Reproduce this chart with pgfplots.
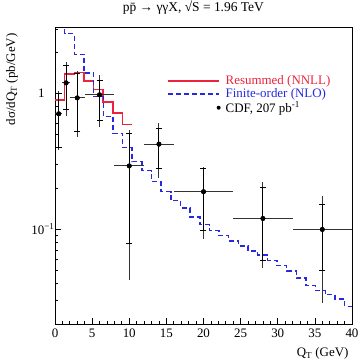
\documentclass[border=0pt]{standalone}
\usepackage{fontspec}
\setmainfont{Liberation Serif}
\usepackage{pgfplots}
\usepackage{pgfplotstable}
\pgfplotsset{compat=1.18}
\definecolor{resred}{RGB}{235,35,60}
\definecolor{nlo}{RGB}{40,40,225}
\pgfplotsset{
  redlegend/.style={legend image code/.code={\draw[draw=resred, line width=1.6bp] (0bp,0bp) -- (51bp,0bp);}},
  bluelegend/.style={legend image code/.code={\draw[draw=nlo, line width=1.5bp, dash pattern=on 5bp off 3bp] (0bp,0bp) -- (51bp,0bp);}},
  dotlegend/.style={legend image code/.code={\path[draw=none, fill=none] (0bp,0bp) -- (51bp,0bp); \fill[black, draw=none] (51bp,0bp) circle (2bp);}},
}

\pgfplotstableread{
x y ex tp tm sp sm
0.5 0.71 0.5 0.33 0.325 0.30 0.31
1.5 1.20 0.5 0.51 0.513 0.41 0.44
3 0.93 1 0.53 0.45 0.49 0.40
6 0.98 2 0.40 0.41 0.27 0.34
10 0.293 2 0.247 0.251 0.217 0.214
14 0.424 2 0.183 0.187 0.133 0.143
20 0.189 4 0.101 0.104 0.092 0.091
28 0.120 4 0.103 0.068 0.085 0.061
36 0.0996 4 0.076 0.071 0.053 0.050
}\cdf

\pgfplotstableread{
x y
0 0.90
1.3 1.40
2.6 1.43
3.9 1.24
5.2 1.07
6.5 0.87
7.8 0.72
9.1 0.59
10.4 0.59
}\nnlltab

\pgfplotstableread{
x y
0 5
1.3 2.78
2.6 1.95
3.9 1.42
5.2 0.95
6.5 0.68
7.8 0.51
9.1 0.40
10.4 0.315
11.7 0.27
13.0 0.225
14.3 0.189
15.6 0.163
16.9 0.143
18.2 0.123
19.5 0.108
20.8 0.098
22.1 0.090
23.4 0.082
24.7 0.075
26.0 0.069
27.3 0.0644
28.6 0.059
29.9 0.054
31.2 0.049
32.5 0.0435
33.8 0.0385
35.1 0.0354
36.4 0.033
37.7 0.0306
39.0 0.027
40.3 0.027
}\nlotab

\begin{document}
\begin{tikzpicture}
\path[use as bounding box] (-55bp,-37bp) rectangle (305bp,324bp);
\begin{axis}[
  at={(0,0)}, anchor=south west,
  scale only axis, width=297bp, height=297bp,
  ymode=log, xmin=0, xmax=40, ymin=0.02, ymax=3.1,
  axis line style={line width=0.9bp},
  tick pos=left, tick align=inside,
  major tick length=6bp, minor tick length=3.5bp,
  every tick/.style={black, line width=0.7bp},
  xtick={0,5,...,40}, minor x tick num=4,
  ytick={0.1,1},
  yticklabels={{10\textsuperscript{−1}\hspace*{-10bp}},{1}},
  minor ytick={0.02,0.03,0.04,0.05,0.06,0.07,0.08,0.09,0.2,0.3,0.4,0.5,0.6,0.7,0.8,0.9,2,3},
  /pgf/number format/assume math mode=true,
  tick label style={font=\fontsize{13}{15}\selectfont},
  yticklabel style={xshift=-7bp},
  xticklabel style={yshift=-1bp},
  title={p\={p} → γγX, √S = 1.96 TeV},
  title style={at={(axis description cs:0.466,1)}, anchor=south, yshift=3bp, font=\fontsize{13.5}{15}\selectfont},
  xlabel={Q\textsubscript{T} (GeV)},
  xlabel style={at={(axis description cs:1,-0.1)}, anchor=east, font=\fontsize{13}{15}\selectfont},
  ylabel={dσ/dQ\textsubscript{T} (pb/GeV)},
  ylabel style={at={(axis description cs:-0.145,0.99)}, anchor=east, font=\fontsize{13}{15}\selectfont},
  legend style={at={(axis description cs:0.376,0.853)}, anchor=north west, draw=none, fill=none,
    font=\fontsize{13}{15}\selectfont, inner sep=0pt, row sep=0.5bp, column sep=4bp,
    cells={anchor=west}, nodes={inner sep=1bp}},
  clip=true,
]
\addlegendimage{empty legend}
\addlegendentry{}
\addplot[draw=resred, line width=1.6bp, const plot mark left, redlegend]
  table[x=x, y=y]{\nnlltab};
\addlegendentry{\textcolor{resred}{Resummed (NNLL)}}
\addplot[draw=nlo, line width=1.5bp, dash pattern=on 5bp off 3bp, const plot mark left, bluelegend]
  table[x=x, y=y]{\nlotab};
\addlegendentry{\textcolor{nlo}{Finite-order (NLO)}}
\addplot[forget plot, only marks, mark=none,
  error bars/.cd, x dir=both, x explicit, y dir=both, y explicit,
  error mark=none, error bar style={line width=1.1bp, black!80}]
  table[x=x, y=y, x error=ex, y error plus=tp, y error minus=tm]{\cdf};
\addplot[black, only marks, mark=*, mark size=2.3bp, dotlegend,
  error bars/.cd, y dir=both, y explicit,
  error bar style={line width=1.1bp, black},
  error mark options={rotate=90, mark size=3bp, line width=0.8bp, black}]
  table[x=x, y=y, y error plus=sp, y error minus=sm]{\cdf};
\addlegendentry{CDF, 207 pb\textsuperscript{-1}}
\end{axis}
\end{tikzpicture}
\end{document}
